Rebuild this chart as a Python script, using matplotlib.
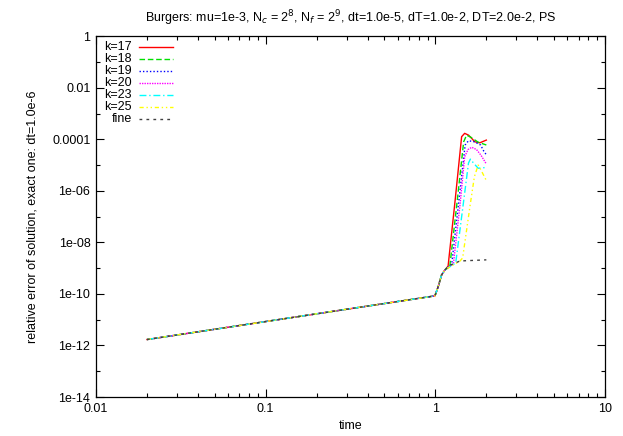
import matplotlib
matplotlib.use("Agg")
import matplotlib.pyplot as plt
from matplotlib.ticker import LogLocator, FixedLocator, NullFormatter

plt.rcParams['font.family'] = ['Liberation Sans', 'DejaVu Sans']
plt.rcParams['font.size'] = 9

# shared early part of every run (time, relative error)
base_t = [0.02, 0.995, 1.04, 1.09, 1.14]
base_e = [1.7e-12, 8.4e-11, 1.9e-10, 5.5e-10, 8.5e-10]

# tails after the runs separate
k17_t = [1.19, 1.31, 1.43, 1.49, 1.57, 1.64, 1.71, 1.83, 2.0]
k17_e = [1.2e-9, 4.4e-7, 1.26e-4, 1.7e-4, 1.45e-4, 1.08e-4, 8e-5, 7.3e-5, 9.3e-5]
k18_t = [1.22, 1.34, 1.47, 1.53, 1.62, 1.79, 2.0]
k18_e = [1.3e-9, 3e-7, 8e-5, 1.45e-4, 1.2e-4, 7.7e-5, 6e-5]
k19_t = [1.25, 1.37, 1.50, 1.57, 1.70, 1.85, 1.93, 2.0]
k19_e = [1.4e-9, 3e-7, 6e-5, 8.8e-5, 8e-5, 6e-5, 3.5e-5, 2.5e-5]
k20_t = [1.28, 1.40, 1.49, 1.56, 1.64, 1.75, 1.86, 2.0]
k20_e = [1.5e-9, 3e-7, 2.1e-5, 4e-5, 4.9e-5, 4e-5, 2.4e-5, 1.1e-5]
k23_t = [1.32, 1.45, 1.57, 1.61, 1.68, 1.79, 2.0]
k23_e = [1.6e-9, 2e-7, 1.2e-5, 1.7e-5, 1.2e-5, 7.5e-6, 8.1e-6]
k25_t = [1.40, 1.45, 1.60, 1.70, 1.79, 1.86, 2.0]
k25_e = [1.9e-9, 2.5e-9, 2.4e-7, 3.5e-6, 1e-5, 6.4e-6, 2.5e-6]
fine_t = [1.22, 1.40, 2.0]
fine_e = [1.3e-9, 1.9e-9, 2.1e-9]

labels = ['k=17', 'k=18', 'k=19', 'k=20', 'k=23', 'k=25', 'fine']
series = [(k17_t, k17_e), (k18_t, k18_e), (k19_t, k19_e), (k20_t, k20_e),
          (k23_t, k23_e), (k25_t, k25_e), (fine_t, fine_e)]
colors = ['#ff0000', '#00e000', '#0000ff', '#ff00ff', '#00ffff', '#ffff00', '#404040']
styles = ['-', (0, (4, 2)), (0, (1, 1.5)), (0, (1, 0.8)), (0, (5, 2, 1, 2)),
          (0, (3, 2, 1, 2, 1, 2)), (0, (2, 3))]

fig = plt.figure(figsize=(6.23, 4.36), dpi=100)
ax = fig.add_axes([0.154, 0.0894, 0.817, 0.8276])

for lab, (t, e), c, ls in zip(labels, series, colors, styles):
    ax.plot(base_t + t, base_e + e, color=c, linestyle=ls, linewidth=1, label=lab)

# gnuplot-style key: right-aligned text, sample line to its right
for i, (lab, c, ls) in enumerate(zip(labels, colors, styles)):
    yk = 0.9695 - 0.0332 * i
    ax.text(0.071, yk, lab, transform=ax.transAxes, ha='right', va='center')
    ax.plot([0.085, 0.151], [yk, yk], transform=ax.transAxes, color=c,
            linestyle=ls, linewidth=1)

ax.set_xscale('log')
ax.set_yscale('log')
ax.set_xlim(0.01, 10)
ax.set_ylim(1e-14, 1)

ax.yaxis.set_major_locator(FixedLocator([1e-14, 1e-12, 1e-10, 1e-8, 1e-6, 1e-4, 1e-2, 1]))
ax.set_yticklabels(['1e-14', '1e-12', '1e-10', '1e-08', '1e-06', '0.0001', '0.01', '1'])
ax.yaxis.set_minor_locator(FixedLocator([1e-13, 1e-11, 1e-9, 1e-7, 1e-5, 1e-3, 1e-1]))
ax.yaxis.set_minor_formatter(NullFormatter())
ax.xaxis.set_major_locator(FixedLocator([0.01, 0.1, 1, 10]))
ax.set_xticklabels(['0.01', '0.1', '1', '10'])
ax.xaxis.set_minor_locator(LogLocator(base=10, subs=range(2, 10)))
ax.xaxis.set_minor_formatter(NullFormatter())

ax.tick_params(which='both', direction='in', top=True, right=True, width=0.8)
ax.tick_params(which='major', length=6, pad=4)
ax.tick_params(which='minor', length=3)
for s in ax.spines.values():
    s.set_linewidth(0.9)

ax.set_xlabel('time', labelpad=4)
ax.set_ylabel('relative error of solution, exact one: dt=1.0e-6', labelpad=10)
ax.set_title('Burgers: mu=1e-3, N$_c$ = 2$^8$, N$_f$ = 2$^9$, dt=1.0e-5, dT=1.0e-2, DT=2.0e-2, PS',
             fontsize=9, pad=10)

fig.savefig('out.png', dpi=100)
